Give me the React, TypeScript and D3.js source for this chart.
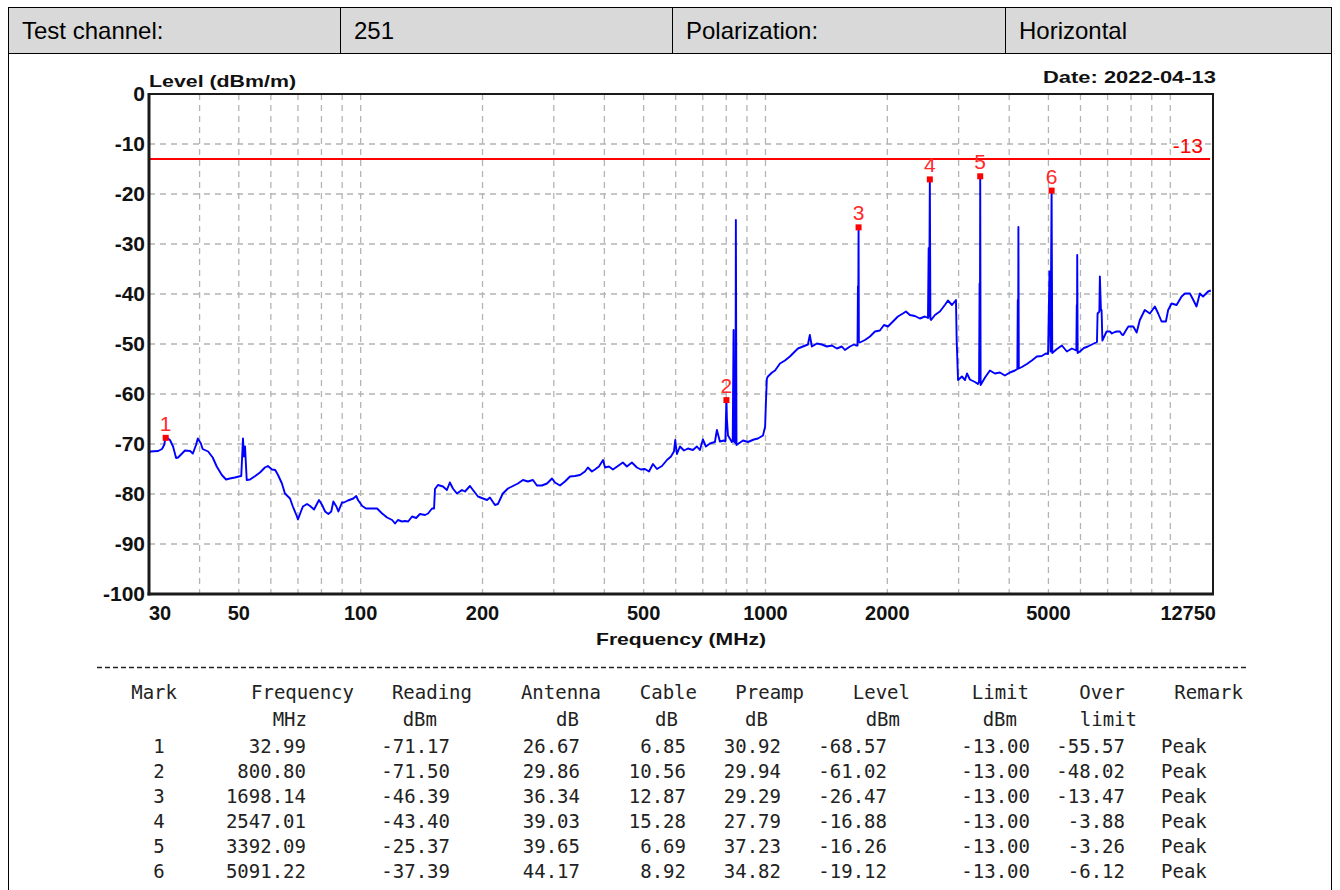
import React from 'react'
import * as d3 from 'd3'

// header row of the report
const headerCells = ['Test channel:', '251', 'Polarization:', 'Horizontal']

// axes
const yTickValues = [0, -10, -20, -30, -40, -50, -60, -70, -80, -90, -100]
const xTickValues = [30, 50, 100, 200, 500, 1000, 2000, 5000, 12750]
const gridFreqs = [40, 50, 60, 70, 80, 90, 100, 200, 300, 400, 500, 600, 700, 800, 900,
  1000, 2000, 3000, 4000, 5000, 6000, 7000, 8000, 9000, 10000]
const limitLevel = -13
const yTitle = 'Level (dBm/m)'
const xTitle = 'Frequency (MHz)'
const dateText = 'Date: 2022-04-13'

// measured trace [MHz, dBm/m]
const trace: [number, number][] = [
  [30, -71.9], [30.2, -71.5], [31.6, -71.4], [32.3, -71.0], [32.7, -70.2], [32.99, -68.57], [33.8, -69.2],
  [34.4, -70.5], [35.0, -72.8], [35.4, -72.7], [36.2, -71.9], [36.8, -71.3], [37.9, -71.4], [38.5, -71.9],
  [39.2, -70.2], [39.6, -68.9], [40.3, -69.9], [40.7, -71.0], [42.0, -71.5], [43.1, -72.7], [44.1, -74.5],
  [45.4, -76.2], [46.5, -77.1], [47.5, -76.9], [48.9, -76.7], [50.0, -76.5], [50.7, -76.4], [51.2, -68.9],
  [51.5, -72.5], [51.8, -70.5], [52.3, -77.2], [53.3, -77.1], [54.9, -76.4], [56.4, -75.7], [58.0, -74.7],
  [59.0, -74.4], [60.4, -75.1], [61.5, -75.2], [62.5, -76.2], [63.9, -77.9], [65.0, -79.9], [66.9, -80.9],
  [68.0, -82.5], [69.6, -84.5], [70.0, -85.1], [71.2, -83.5], [72.0, -82.5], [73.7, -82.0], [75.0, -82.4],
  [76.7, -83.1], [78.9, -81.2], [80.3, -82.2], [81.7, -83.5], [83.2, -84.0], [84.6, -83.5], [85.6, -81.5],
  [87.1, -82.5], [88.1, -83.5], [89.9, -81.7], [90.9, -81.7], [93.0, -81.3], [95.9, -80.9], [97.5, -80.4],
  [98.5, -81.2], [100.9, -82.4], [103.1, -82.9], [106.8, -82.9], [109.8, -82.9], [113.0, -83.9], [116.2, -84.7],
  [119.6, -85.2], [121.6, -85.9], [123.6, -85.2], [126.5, -85.5], [128.7, -85.4], [131.0, -85.5], [134.0, -84.5],
  [137.1, -84.8], [140.1, -84.0], [144.2, -84.2], [146.7, -83.9], [150.1, -82.9], [151.8, -82.9], [152.6, -79.0],
  [155.2, -78.2], [159.7, -78.5], [163.3, -79.2], [166.1, -77.7], [169.0, -78.9], [172.9, -79.9], [177.9, -79.2],
  [181.0, -79.5], [186.2, -78.4], [189.4, -79.2], [194.9, -80.5], [200.6, -80.9], [205.2, -81.2], [208.6, -80.7],
  [214.6, -82.2], [218.3, -82.0], [224.5, -79.9], [231.1, -78.9], [237.8, -78.4], [244.6, -77.9], [251.7, -77.2],
  [258.9, -77.5], [266.4, -77.2], [272.5, -78.3], [280.4, -78.3], [288.6, -77.9], [296.9, -76.9], [302.0, -77.7],
  [310.7, -78.3], [319.6, -77.5], [328.9, -76.5], [338.4, -76.4], [348.1, -76.2], [358.2, -75.5], [364.2, -74.7],
  [372.6, -75.5], [379.0, -75.1], [387.8, -74.5], [397.0, -73.2], [401.4, -74.7], [410.4, -74.5], [419.9, -75.1],
  [432.0, -74.4], [444.3, -73.7], [454.6, -74.5], [467.7, -73.7], [481.3, -74.7], [492.3, -75.1], [503.6, -75.0],
  [515.5, -75.5], [527.3, -74.0], [539.5, -75.0], [555.0, -74.4], [571.0, -73.2], [584.1, -72.5], [594.1, -71.5],
  [598.5, -69.2], [604.3, -72.0], [614.8, -70.5], [629.1, -71.3], [643.3, -70.9], [661.8, -71.2], [676.9, -70.5],
  [688.7, -71.2], [700.5, -69.1], [712.6, -70.5], [729.1, -69.9], [750.0, -69.6], [758.6, -67.2], [771.7, -69.5],
  [789.5, -69.3], [796, -69.5], [800.8, -61.02], [803, -65.0], [808, -68.3], [826, -69.6], [830, -69.3],
  [834, -47.2], [836, -69.5], [843, -69.8], [845, -25.2], [848, -70.2], [880, -69.3], [905, -69.6], [936, -69.1],
  [958, -68.9], [986, -68.3], [998, -66.5], [1003, -61.2], [1008, -56.9], [1014, -56.5], [1038, -55.7],
  [1056, -55.3], [1086, -53.9], [1117, -53.3], [1149, -52.5], [1182, -51.5], [1203, -50.9], [1237, -50.5],
  [1273, -50.1], [1287, -48.2], [1302, -50.5], [1340, -49.9], [1378, -50.1], [1418, -50.5], [1459, -50.3],
  [1501, -50.9], [1544, -50.5], [1571, -51.2], [1617, -50.5], [1654, -50.1], [1673, -50.3], [1688, -50.3],
  [1692, -38.5], [1694, -49.0], [1698.14, -26.47], [1701, -49.5], [1711, -49.7], [1761, -49.2], [1812, -48.5],
  [1864, -47.5], [1917, -47.3], [1962, -46.2], [2007, -46.5], [2065, -45.5], [2124, -44.5], [2185, -43.9],
  [2223, -43.5], [2274, -44.2], [2339, -44.4], [2407, -44.9], [2476, -44.5], [2520, -44.8], [2530, -30.8],
  [2537, -44.5], [2547.01, -16.88], [2555, -45.0], [2565, -45.2], [2622, -44.2], [2697, -43.5], [2774, -42.2],
  [2823, -41.3], [2889, -42.2], [2955, -41.2], [2967, -49.2], [2990, -57.2], [3057, -56.5], [3111, -57.2],
  [3146, -55.9], [3199, -57.1], [3292, -57.6], [3349, -58.0], [3370, -57.5], [3380, -37.9], [3385, -57.0],
  [3392.09, -16.26], [3400, -58.2], [3486, -56.7], [3585, -55.3], [3687, -55.9], [3794, -55.7], [3903, -56.3],
  [4016, -55.7], [4132, -55.3], [4190, -55.0], [4200, -41.2], [4208, -54.8], [4215, -26.6], [4225, -54.9],
  [4300, -54.6], [4423, -54.0], [4550, -53.3], [4681, -52.5], [4815, -52.4], [4926, -51.9], [4990, -52.0],
  [5030, -35.5], [5060, -51.5], [5091.22, -19.12], [5110, -51.8], [5247, -51.0], [5398, -50.3], [5553, -51.5],
  [5714, -50.9], [5860, -51.3], [5875, -42.2], [5882, -51.0], [5890, -32.2], [5905, -51.8], [5980, -51.5],
  [6117, -50.8], [6258, -50.5], [6440, -50.0], [6590, -49.6], [6613, -43.9], [6680, -43.5], [6700, -36.5],
  [6740, -43.2], [6765, -43.2], [6796, -49.3], [6960, -47.5], [7092, -47.5], [7173, -47.9], [7297, -47.6],
  [7380, -47.5], [7507, -47.5], [7593, -48.1], [7650, -48.2], [7820, -46.9], [7880, -46.5], [8100, -46.5],
  [8260, -47.7], [8410, -45.2], [8650, -43.2], [8906, -43.9], [9160, -42.5], [9335, -43.9], [9515, -45.5],
  [9753, -45.5], [9880, -43.2], [10075, -41.9], [10365, -42.2], [10665, -40.5], [10870, -39.9], [11180, -39.9],
  [11350, -40.9], [11610, -42.5], [11830, -39.9], [12050, -40.5], [12400, -39.5], [12590, -39.3],
]

// marker table
const markNo = ['1', '2', '3', '4', '5', '6']
const markFreq = [32.99, 800.80, 1698.14, 2547.01, 3392.09, 5091.22]
const markReading = [-71.17, -71.50, -46.39, -43.40, -25.37, -37.39]
const markAntenna = [26.67, 29.86, 36.34, 39.03, 39.65, 44.17]
const markCable = [6.85, 10.56, 12.87, 15.28, 6.69, 8.92]
const markPreamp = [30.92, 29.94, 29.29, 27.79, 37.23, 34.82]
const markLevel = [-68.57, -61.02, -26.47, -16.88, -16.26, -19.12]
const markLimit = [-13, -13, -13, -13, -13, -13]
const markOver = [-55.57, -48.02, -13.47, -3.88, -3.26, -6.12]
const markRemark = ['Peak', 'Peak', 'Peak', 'Peak', 'Peak', 'Peak']
const tableHead1 = ['Mark', 'Frequency', 'Reading', 'Antenna', 'Cable', 'Preamp', 'Level', 'Limit', 'Over', 'Remark']
const tableHead2 = ['', 'MHz', 'dBm', 'dB', 'dB', 'dB', 'dBm', 'dBm', 'limit', '']

const W = 1340
const H = 890
const left = 149
const right = 1213
const top = 94
const bottom = 594
const sans = '"Liberation Sans", Arial, sans-serif'
const mono = '"DejaVu Sans Mono", monospace'
const red = '#ff0000'

// column layout: header end, unit end, value x, value anchor
const colLayout = [
  { h: 177, u: 0, v: 159, a: 'middle' },
  { h: 354, u: 307, v: 306, a: 'end' },
  { h: 472, u: 437, v: 450, a: 'end' },
  { h: 601, u: 579, v: 580, a: 'end' },
  { h: 697, u: 678, v: 686, a: 'end' },
  { h: 804, u: 768, v: 781, a: 'end' },
  { h: 910, u: 900, v: 887, a: 'end' },
  { h: 1029, u: 1017, v: 1030, a: 'end' },
  { h: 1125, u: 1137, v: 1125, a: 'end' },
  { h: 1243, u: 0, v: 1161, a: 'start' },
]

export default function App() {
  const x = d3.scaleLog().domain([30, 12750]).range([left, right])
  const y = d3.scaleLinear().domain([-100, 0]).range([bottom, top])
  const line = d3.line<[number, number]>().x(d => x(d[0])).y(d => y(d[1]))

  const cellX = [8, 340, 672, 1005, 1332]
  const fmt = (v: number) => v.toFixed(2)
  const rows = markNo.map((m, i) => [
    m, fmt(markFreq[i]), fmt(markReading[i]), fmt(markAntenna[i]), fmt(markCable[i]),
    fmt(markPreamp[i]), fmt(markLevel[i]), fmt(markLimit[i]), fmt(markOver[i]), markRemark[i],
  ])

  return (
    <div style={{ position: 'absolute', left: 0, top: 0 }}>
      <svg width={W} height={H} style={{ display: 'block', background: '#fff' }}>
        {/* header */}
        <rect x={8.5} y={7.5} width={1323} height={46} fill="#d9d9d9" stroke="#000" />
        {cellX.slice(1, 4).map(cx => (
          <line key={cx} x1={cx + 0.5} x2={cx + 0.5} y1={7.5} y2={53.5} stroke="#000" />
        ))}
        {headerCells.map((t, i) => (
          <text key={t} x={cellX[i] + 14} y={39} fontFamily={sans} fontSize={24} fill="#000">{t}</text>
        ))}
        <line x1={8.5} x2={8.5} y1={53} y2={H} stroke="#000" />
        <line x1={1331.5} x2={1331.5} y1={53} y2={H} stroke="#000" />

        {/* grid */}
        <g stroke="#b4b4b4" strokeWidth={1.3} strokeDasharray="6,5">
          {yTickValues.filter(v => v > -100 && v < 0).map(v => (
            <line key={'h' + v} x1={left} x2={right} y1={y(v)} y2={y(v)} />
          ))}
          {gridFreqs.map(f => (
            <line key={'v' + f} x1={x(f)} x2={x(f)} y1={top} y2={bottom} />
          ))}
        </g>

        {/* limit */}
        <line x1={left} x2={right - 3} y1={y(limitLevel)} y2={y(limitLevel)} stroke={red} strokeWidth={2} />
        <text x={1203} y={y(limitLevel) - 6} textAnchor="end" fontFamily={sans} fontSize={21} fill={red}>
          {String(limitLevel)}
        </text>

        {/* trace */}
        <clipPath id="plot">
          <rect x={left} y={top} width={right - left} height={bottom - top} />
        </clipPath>
        <path d={line(trace) || ''} fill="none" stroke="#0000ff" strokeWidth={1.9}
          strokeLinejoin="round" clipPath="url(#plot)" />

        {/* markers */}
        {markFreq.map((f, i) => (
          <g key={'m' + i}>
            <rect x={x(f) - 3} y={y(markLevel[i]) - 2} width={6} height={6} fill={red} />
            <text x={x(f)} y={y(markLevel[i]) - 6} textAnchor="middle" fontFamily={sans} fontSize={21} fill="#ff2a2a">
              {markNo[i]}
            </text>
          </g>
        ))}

        {/* frame */}
        <rect x={left} y={top} width={right - left} height={bottom - top} fill="none" stroke="#1a1a1a" strokeWidth={2} />
        <line x1={left} x2={left} y1={top - 1} y2={bottom + 1.5} stroke="#1a1a1a" strokeWidth={3} />
        <line x1={left - 1.5} x2={right + 1} y1={bottom} y2={bottom} stroke="#1a1a1a" strokeWidth={3} />

        {/* axes labels */}
        {yTickValues.map(v => (
          <text key={'yl' + v} x={145} y={y(v) + 7} textAnchor="end" fontFamily={sans}
            fontWeight="bold" fontSize={21} fill="#111">{v}</text>
        ))}
        {xTickValues.map((f, i) => (
          <text key={'xl' + f} x={i === 0 ? left : i === xTickValues.length - 1 ? right + 3 : x(f)} y={620}
            textAnchor={i === 0 ? 'start' : i === xTickValues.length - 1 ? 'end' : 'middle'}
            fontFamily={sans} fontWeight="bold" fontSize={20} fill="#111">{f}</text>
        ))}
        <text x={left} y={87} fontFamily={sans} fontWeight="bold" fontSize={17} fill="#111"
          textLength={147} lengthAdjust="spacingAndGlyphs">{yTitle}</text>
        <text x={1043} y={83} fontFamily={sans} fontWeight="bold" fontSize={17} fill="#111"
          textLength={173} lengthAdjust="spacingAndGlyphs">{dateText}</text>
        <text x={596} y={645} fontFamily={sans} fontWeight="bold" fontSize={17} fill="#111"
          textLength={170} lengthAdjust="spacingAndGlyphs">{xTitle}</text>

        {/* table */}
        <line x1={97} x2={1247} y1={667.5} y2={667.5} stroke="#222" strokeWidth={1.3} strokeDasharray="5,3" />
        <g fontFamily={mono} fontSize={19} fill="#222">
          {tableHead1.map((t, i) => (
            <text key={'h1' + i} x={colLayout[i].h} y={699} textAnchor="end">{t}</text>
          ))}
          {tableHead2.map((t, i) => t && (
            <text key={'h2' + i} x={colLayout[i].u} y={726} textAnchor="end">{t}</text>
          ))}
          {rows.map((r, ri) => r.map((t, ci) => (
            <text key={ri + '-' + ci} x={colLayout[ci].v} y={753 + ri * 25}
              textAnchor={colLayout[ci].a as any}>{t}</text>
          )))}
        </g>
      </svg>
    </div>
  )
}
